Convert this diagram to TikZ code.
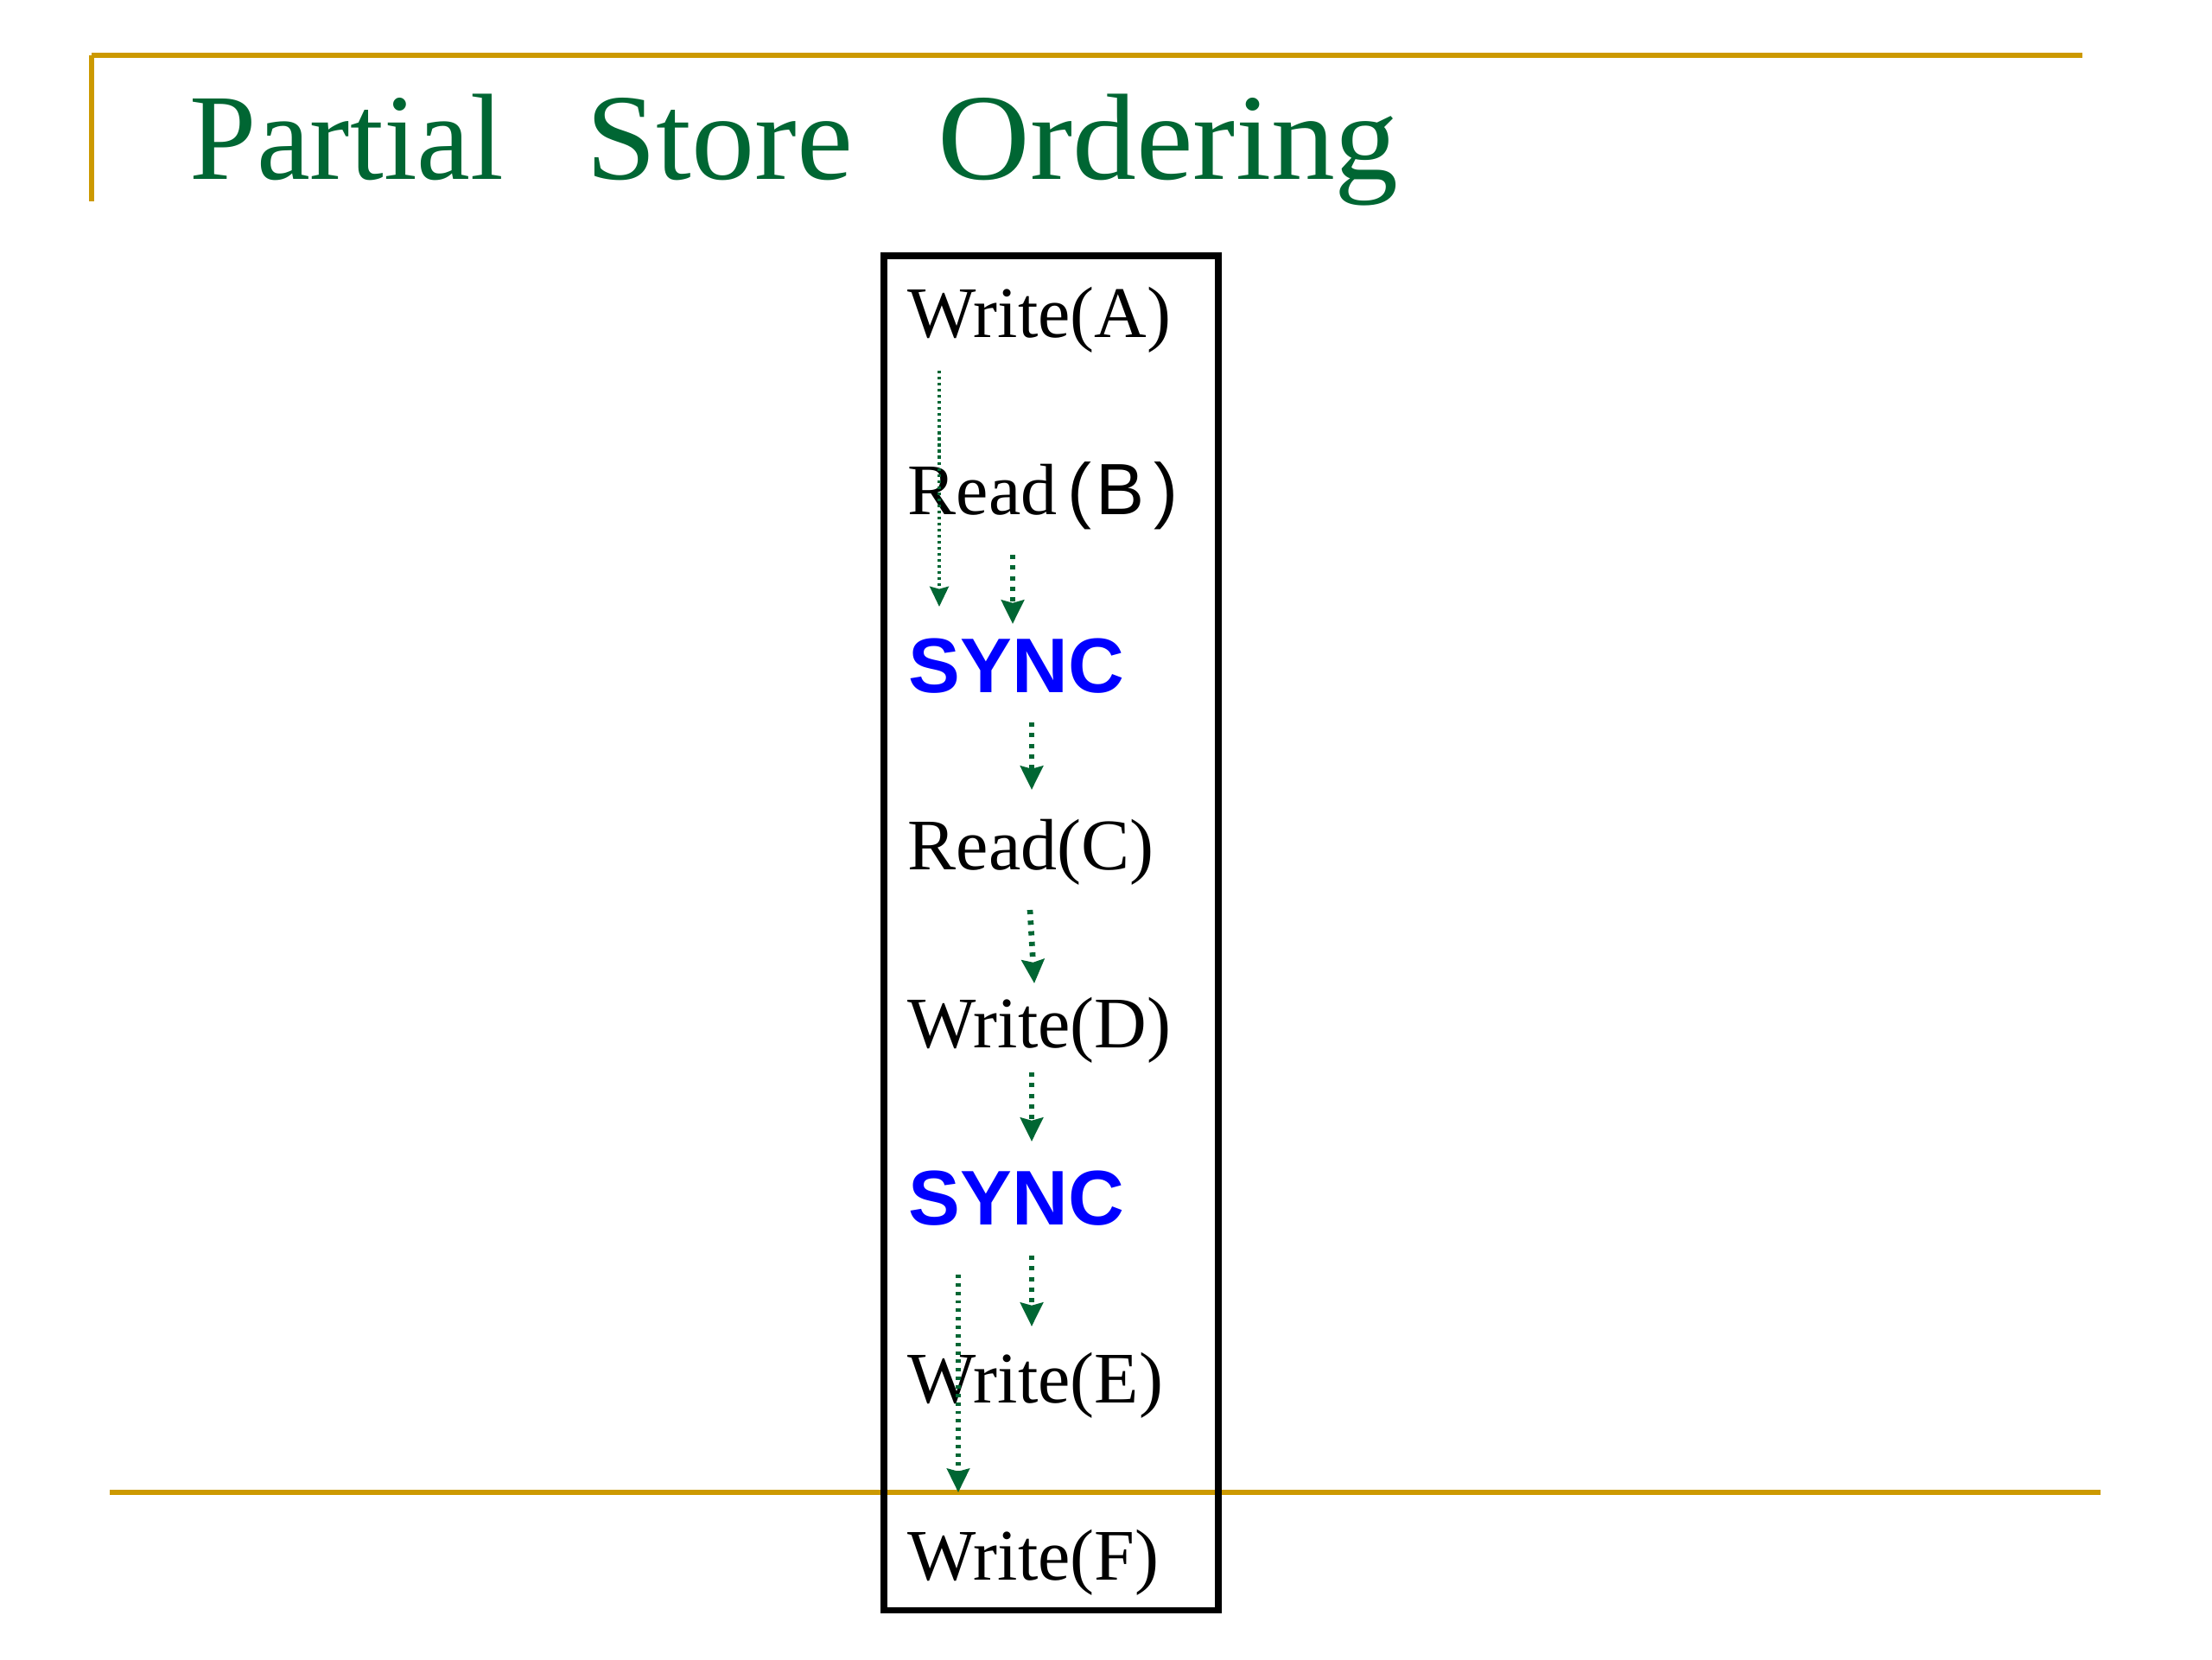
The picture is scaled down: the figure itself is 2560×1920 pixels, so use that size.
\documentclass[tikz,border=0pt]{standalone}
\usepackage{graphicx}
\usepackage{fontspec}
\setmainfont{Liberation Serif}
\newfontfamily\sansf{Liberation Sans}
\usetikzlibrary{arrows.meta,calc}
\definecolor{gold}{RGB}{204,153,0}
\definecolor{titlegreen}{RGB}{0,102,51}
\definecolor{arrowgreen}{RGB}{0,102,51}
\definecolor{syncblue}{RGB}{0,0,255}
\begin{document}
\begin{tikzpicture}[x=0.01cm,y=-0.01cm,
  item/.style={anchor=base west, inner sep=0pt, font=\fontsize{23.9}{28}\selectfont},
  syncitem/.style={anchor=base west, inner sep=0pt, text=syncblue, font=\sansf\bfseries\fontsize{25.5}{30}\selectfont},
  order/.style={draw=arrowgreen, line width=1.9pt, dash pattern=on 1.4pt off 2.1pt, -{Stealth[width=7.4pt,length=7.8pt,inset=0.9pt]}},
  orderlong/.style={order, line width=1.5pt, dash pattern=on 1.1pt off 1.7pt},
  orderthin/.style={order, line width=1pt, dash pattern=on 0.9pt off 1.1pt, -{Stealth[width=6.2pt,length=6.6pt,inset=0.8pt]}},
  rule/.style={draw=gold, line width=1.6pt},
  frame/.style={draw=black, line width=2pt}]
\useasboundingbox (0,0) rectangle (2560,1920);
\fill[white] (0,0) rectangle (2560,1920);
% decorative rules
\draw[rule] (106,64) -- (2410,64);
\draw[rule] (106,64) -- (106,233);
\draw[rule] (127,1727) -- (2431,1727);
% title
\node[anchor=base west, inner sep=0pt, text=titlegreen, font=\fontsize{40.4}{48}\selectfont] (title) at (219,207)
  {\scalebox{0.98}[1]{Partial}\hspace{27pt}\scalebox{1.03}[1]{Store}\hspace{28pt}\scalebox{1.04}[1]{Ordering}};
% frame
\draw[frame] (1023,296) rectangle (1410,1863);
% items
\node[item] (wa) at (1050,390) {Write(A)};
\node[item] (rb) at (1050,595) {Read\hspace{3.3pt}{\sansf (\hspace{1.5pt}B\hspace{3.2pt})}};
\node[syncitem] (s1) at (1051,801) {SYNC};
\node[item] (rc) at (1050,1006) {Read(C)};
\node[item] (wd) at (1050,1212) {Write(D)};
\node[syncitem] (s2) at (1051,1417) {SYNC};
\node[item] (we) at (1050,1623) {Write(E)};
\node[item] (wf) at (1050,1828) {Write(F)};
% ordering arrows
\draw[orderthin] ($(wa.base west)+(37,39)$) -- ($(s1.base west)+(36,-99)$);
\draw[order] ($(rb.base west)+(122,47)$) -- ($(s1.base west)+(121,-79)$);
\draw[order] ($(s1.base west)+(143,35)$) -- ($(rc.base west)+(144,-92)$);
\draw[order] ($(rc.base west)+(142,47)$) -- ($(wd.base west)+(147,-74)$);
\draw[order] ($(wd.base west)+(144,29)$) -- ($(s2.base west)+(143,-96)$);
\draw[order] ($(s2.base west)+(143,36)$) -- ($(we.base west)+(144,-88)$);
\draw[orderlong] ($(s2.base west)+(58,58)$) -- ($(wf.base west)+(59,-101)$);
\end{tikzpicture}
\end{document}
